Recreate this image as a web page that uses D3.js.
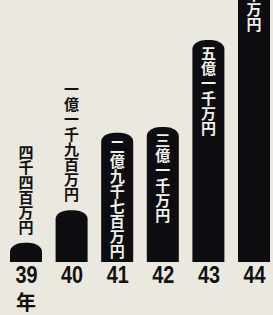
<html>
  <head>
    <meta charset="UTF-8">
    <script src="https://cdn.jsdelivr.net/npm/d3@7/dist/d3.min.js"></script>
    <style>
      body { margin: 0; background: #ebe8df; }
      .lab { writing-mode: vertical-rl; text-orientation: upright; }
    </style>
  </head>
  <body>
    <svg width="273" height="315"></svg>

    <script type="text/javascript">
      // Years (showa) and amounts in 万円
      var years = ['39', '40', '41', '42', '43', '44'];
      var values = [4400, 11900, 29700, 31000, 51000, 75000];
      var labels = ['四千四百万円', '一億一千九百万円', '二億九千七百万円',
                    '三億一千万円', '五億一千万円', '七億五千万円'];
      var yearUnit = '年';

      var svg = d3.select('svg');
      var bottom = 262, barW = 32, pitch = 15;

      var x = d3.scalePoint().domain(years).range([26, 254]);
      var y = d3.scaleLinear().domain([0, 51000]).range([bottom, 40]);

      svg.append('rect').attr('width', 273).attr('height', 315).attr('fill', '#ebe8df');

      // bar with rounded top
      function barPath(d, i) {
        var x0 = x(years[i]) - barW / 2, top = y(d);
        var rx = 13, ry = Math.min(9, (bottom - top) / 2);
        return 'M' + x0 + ',' + bottom +
          'V' + (top + ry) +
          'A' + rx + ',' + ry + ' 0 0 1 ' + (x0 + rx) + ',' + top +
          'H' + (x0 + barW - rx) +
          'A' + rx + ',' + ry + ' 0 0 1 ' + (x0 + barW) + ',' + (top + ry) +
          'V' + bottom + 'Z';
      }

      svg.selectAll('path.bar').data(values).enter()
        .append('path')
        .attr('class', 'bar')
        .attr('fill', '#0d0c10')
        .attr('d', barPath);

      // vertical labels: white inside the tall bars, black above the short ones
      svg.selectAll('text.lab').data(values).enter()
        .append('text')
        .attr('class', 'lab')
        .attr('x', function(d, i) { return x(years[i]); })
        .attr('y', function(d, i) {
          var n = labels[i].length;
          return i >= 2 ? y(d) + 6 : y(d) - 8 - n * pitch;
        })
        .attr('font-family', '"Noto Sans CJK JP"')
        .attr('font-weight', 700)
        .attr('font-size', 15)
        .attr('fill', function(d, i) { return i >= 2 ? '#f2f0ec' : '#111'; })
        .text(function(d, i) { return labels[i]; });

      // year ticks
      var axis = d3.axisBottom(x).tickSize(0).tickPadding(0);
      var g = svg.append('g').attr('transform', 'translate(0,' + (bottom + 21) + ')').call(axis);
      g.select('.domain').remove();
      g.selectAll('text')
        .attr('dy', 0)
        .attr('font-family', '"Liberation Sans", sans-serif')
        .attr('font-weight', 700)
        .attr('font-size', 23.5)
        .attr('textLength', 22)
        .attr('lengthAdjust', 'spacingAndGlyphs')
        .attr('fill', '#111');

      svg.append('text')
        .attr('x', x(years[0]))
        .attr('y', 310)
        .attr('text-anchor', 'middle')
        .attr('font-family', '"Noto Sans CJK JP"')
        .attr('font-weight', 700)
        .attr('font-size', 20)
        .attr('fill', '#111')
        .text(yearUnit);
    </script>
  </body>
</html>
